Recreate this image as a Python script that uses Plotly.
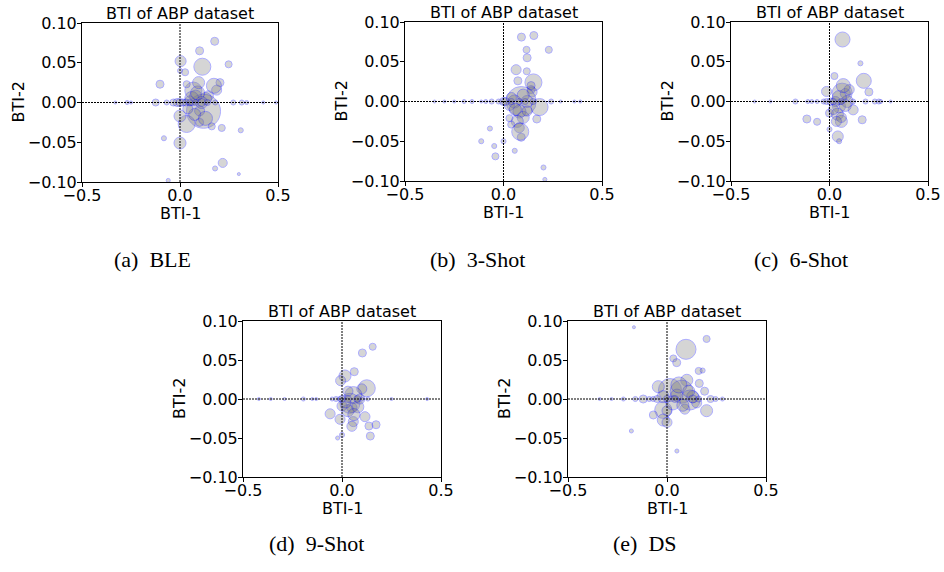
import plotly.graph_objects as go

# ---- data (x = BTI-1, y = BTI-2, s = bubble weight) ----
ble_x = [0.177, 0.10, 0.003, 0.0, 0.026, 0.114, 0.248, -0.102, 0.204, 0.187, 0.068, 0.145, 0.034,
         0.12, 0.05, 0.10, 0.034, 0.0, 0.10, 0.162, 0.213, 0.31, -0.082, 0.0, 0.218, 0.179, 0.30, -0.06,
         0.173, 0.13, 0.08, 0.06, 0.09, 0.11, 0.075, 0.13, 0.04, 0.095,
         -0.33, -0.27, -0.25, -0.124, -0.068, -0.034, -0.015, 0.0, 0.015, 0.03, 0.05, 0.08, 0.11, 0.14,
         0.18, 0.272, 0.315, 0.34, 0.425, 0.49]
ble_y = [0.077, 0.065, 0.052, 0.04, 0.038, 0.045, 0.048, 0.023, 0.025, 0.0156, 0.015, 0.0084, 0.023,
         -0.011, 0.002, -0.0105, -0.027, -0.017, -0.025, -0.03, -0.032, -0.035, -0.045, -0.051, -0.076,
         -0.083, -0.09, -0.098, 0.021, 0.005, 0.008, 0.005, 0.012, 0.0, -0.015, -0.02, -0.008, 0.025,
         0, 0, 0, 0, 0, 0, 0, 0, 0, 0, 0, 0, 0, 0, 0, 0, 0, 0, 0, 0]
ble_s = [8, 8, 11, 5, 7, 17, 7, 8, 8, 10, 17, 10, 7,
         34, 10, 10, 17, 12, 8, 7, 7, 5, 5, 12, 9, 5, 3, 4,
         15, 12, 12, 14, 14, 12, 12, 14, 10, 12,
         3, 4, 3, 7, 5, 7, 8, 8, 7, 7, 6, 6, 8, 6, 5, 5, 5, 4, 3, 3]

shot3_x = [0.091, 0.154, 0.117, 0.12, 0.23, 0.064, 0.118, 0.073, 0.152, 0.14, 0.145,
           0.09, 0.183, 0.056, 0.081, 0.03, 0.12, 0.10, 0.06, 0.1, 0.07, 0.12, 0.04, 0.09, 0.14,
           0.169, 0.03, 0.039, 0.08, 0.085, -0.069, -0.113, -0.047, 0.0, 0.057, -0.041, 0.203, 0.21,
           -0.35, -0.30, -0.25, -0.2, -0.16, -0.113, -0.09, -0.06, -0.025, 0.0, 0.01, 0.04, 0.08, 0.11,
           0.15, 0.242, 0.29, 0.36, 0.39]
shot3_y = [0.081, 0.083, 0.065, 0.055, 0.065, 0.040, 0.038, 0.026, 0.024, 0.015, 0.012,
           0.0, -0.007, 0.0, -0.0126, -0.005, 0.0, -0.02, -0.01, 0.008, -0.025, -0.012, 0.005, -0.045,
           0.02,
           -0.022, -0.021, -0.029, -0.033, -0.038, -0.034, -0.050, -0.056, -0.050, -0.062, -0.069,
           -0.083, -0.098,
           0, 0, 0, 0, 0, 0, 0, 0, 0, 0, 0, 0, 0, 0, 0, 0, 0, 0, 0]
shot3_s = [8, 8, 7, 8, 7, 10, 7, 8, 17, 8, 10,
           30, 17, 13, 13, 10, 12, 12, 12, 12, 12, 10, 10, 8, 8,
           8, 7, 7, 10, 17, 5, 5, 5, 5, 5, 7, 5, 4,
           3, 3, 3, 4, 4, 3, 4, 5, 5, 8, 8, 6, 6, 6, 6, 5, 3, 3, 3]

shot6_x = [0.066, 0.157, 0.174, 0.025, 0.2, -0.015, 0.064, 0.08, 0.048, 0.12, 0.0, 0.04, 0.03, 0.09,
           0.05, 0.08, 0.06, 0.02, 0.1, 0.07,
           -0.115, -0.063, 0.166, 0.0, 0.042, 0.049, 0.06, 0.035,
           -0.38, -0.3, -0.173, -0.11, -0.09, -0.063, -0.03, -0.015, 0.005, 0.02, 0.06, 0.12, 0.183,
           0.23, 0.25, 0.26, 0.31]
shot6_y = [0.078, 0.048, 0.026, 0.032, 0.012, 0.0126, 0.0105, 0.01, -0.006, -0.0105, -0.0146, -0.016,
           0.0, 0.0, 0.005, -0.005, -0.025, -0.01, 0.015, 0.02,
           -0.022, -0.0255, -0.023, -0.035, -0.044, -0.050, -0.02, -0.025,
           0, 0, 0, 0, 0, 0, 0, 0, 0, 0, 0, 0, 0, 0, 0, 0, 0]
shot6_s = [15, 5, 15, 7, 8, 10, 20, 10, 13, 10, 8, 12, 10, 12,
           14, 12, 12, 10, 10, 14,
           8, 7, 8, 5, 11, 5, 10, 10,
           3, 3, 5, 4, 4, 4, 5, 6, 7, 6, 6, 5, 5, 5, 5, 4, 3]

shot9_x = [0.155, 0.103, 0.062, 0.015, -0.007, 0.125, 0.1, 0.057, 0.04, 0.0, 0.05, -0.06, -0.01,
           0.057, 0.116, 0.136, 0.172, 0.143, 0.0, -0.022, 0.03, 0.08,
           0.02, 0.06, 0.09, 0.03, 0.05,
           -0.42, -0.36, -0.29, -0.195, -0.15, -0.13, -0.05, -0.03, -0.01, 0.0, 0.03, 0.077, 0.1,
           0.13, 0.25, 0.43]
shot9_y = [0.067, 0.059, 0.035, 0.0295, 0.0235, 0.0137, 0.013, 0.005, -0.0055, -0.009, -0.011,
           -0.019, -0.026, -0.029, -0.0227, -0.0346, -0.033, -0.0475, -0.046, -0.050, -0.015, -0.01,
           -0.005, -0.02, 0.0, 0.01, -0.035,
           0, 0, 0, 0, 0, 0, 0, 0, 0, 0, 0, 0, 0, 0, 0, 0]
shot9_s = [7, 8, 8, 12, 10, 17, 10, 17, 20, 10, 10, 10, 10, 10, 10, 8, 8, 8, 5, 4, 12, 12,
           10, 12, 10, 10, 10,
           3, 3, 3, 4, 3, 3, 4, 5, 5, 7, 7, 7, 4, 4, 3, 3]

ds_x = [0.096, 0.2, 0.032, 0.049, 0.16, 0.18, 0.163, 0.1, 0.015, -0.044, 0.074, 0.116, 0.19,
        -0.019, 0.0, -0.069, 0.2, 0.09, -0.019, 0.05, -0.167, -0.18, 0.05, 0.13,
        0.03, 0.08, 0.06, -0.02, 0.11, 0.15, 0.0,
        -0.34, -0.28, -0.22, -0.16, -0.12, -0.09, -0.07, -0.05, 0.0, 0.04, 0.13, 0.16, 0.22, 0.245,
        0.28]
ds_y = [0.0637, 0.077, 0.052, 0.0466, 0.036, 0.0365, 0.020, 0.024, 0.0115, 0.0158, 0.0094, -0.0013,
        0.01, -0.014, -0.015, -0.0205, -0.015, -0.013, -0.027, -0.0667, 0.092, -0.041, 0.005, 0.003,
        -0.005, -0.008, 0.018, 0.003, 0.01, -0.005, -0.03,
        0, 0, 0, 0, 0, 0, 0, 0, 0, 0, 0, 0, 0, 0, 0]
ds_s = [20, 7, 7, 8, 7, 5, 8, 12, 23, 12, 23, 20, 8, 17, 10, 8, 12, 10, 12, 4, 3, 4, 12, 12,
        14, 12, 16, 12, 12, 10, 10,
        3, 3, 4, 5, 8, 5, 5, 7, 7, 7, 8, 6, 7, 5, 4]

panels = [
    ("(a)\u2002BLE", ble_x, ble_y, ble_s),
    ("(b)\u20023-Shot", shot3_x, shot3_y, shot3_s),
    ("(c)\u20026-Shot", shot6_x, shot6_y, shot6_s),
    ("(d)\u20029-Shot", shot9_x, shot9_y, shot9_s),
    ("(e)\u2002DS", ds_x, ds_y, ds_s),
]

W, H = 944, 572
# pixel boxes of each axes (left, right, top, bottom) and caption centre
boxes = [(82, 278, 23, 182, 152, 259), (405, 602, 22, 181, 477, 259), (731, 928, 22, 181, 801, 259),
         (243, 441, 321, 477, 316, 543), (568, 766, 321, 477, 645, 543)]

fig = go.Figure()
tick_font = dict(family="DejaVu Sans", size=16, color="black")

for i, ((cap, xs, ys, ss), (l, r, t, b, cx, cy)) in enumerate(zip(panels, boxes), start=1):
    sfx = "" if i == 1 else str(i)
    fig.add_trace(go.Scatter(
        x=xs, y=ys, mode="markers", xaxis="x" + sfx, yaxis="y" + sfx, showlegend=False,
        marker=dict(size=ss, sizemode="diameter", color="gray", opacity=0.32,
                    line=dict(color="blue", width=1)),
    ))
    fig.update_layout({
        "xaxis" + sfx: dict(domain=[l / W, r / W], anchor="y" + sfx, range=[-0.5, 0.5],
                            tickvals=[-0.5, 0, 0.5], tickformat=".1f", showgrid=False, zeroline=False,
                            showline=True, mirror=True, linecolor="black", linewidth=1,
                            ticks="outside", ticklen=4, tickcolor="black", tickfont=tick_font,
                            ticklabelstandoff=-5, automargin=False),
        "yaxis" + sfx: dict(domain=[1 - b / H, 1 - t / H], anchor="x" + sfx, range=[-0.1, 0.1],
                            tickvals=[-0.1, -0.05, 0, 0.05, 0.1], tickformat=".2f", showgrid=False,
                            zeroline=False, showline=True, mirror=True, linecolor="black",
                            linewidth=1, ticks="outside", ticklen=4, tickcolor="black",
                            tickfont=tick_font, ticklabelstandoff=-3, automargin=False),
    })
    # dotted reference lines through the origin
    fig.add_shape(type="line", xref="x" + sfx, yref="y" + sfx, x0=0, x1=0, y0=-0.1, y1=0.1,
                  line=dict(color="black", width=1, dash="2px,1px"), layer="above")
    fig.add_shape(type="line", xref="x" + sfx, yref="y" + sfx, x0=-0.5, x1=0.5, y0=0, y1=0,
                  line=dict(color="black", width=1, dash="2px,1px"), layer="above")
    fig.add_annotation(text="BTI of ABP dataset", xref="paper", yref="paper", x=(l + r) / 2 / W,
                       y=1 - t / H, xanchor="center", yanchor="bottom", yshift=-2, showarrow=False,
                       font=tick_font)
    # axis titles
    fig.add_annotation(text="BTI-1", xref="paper", yref="paper", x=(l + r) / 2 / W,
                       y=1 - (b + 31) / H, xanchor="center", yanchor="middle", showarrow=False,
                       font=tick_font)
    fig.add_annotation(text="BTI-2", xref="paper", yref="paper", x=(l - 64) / W,
                       y=1 - (t + b) / 2 / H, xanchor="center", yanchor="middle", textangle=-90,
                       showarrow=False, font=tick_font)
    fig.add_annotation(text=cap, xref="paper", yref="paper", x=cx / W, y=1 - cy / H,
                       xanchor="center", yanchor="middle", showarrow=False,
                       font=dict(family="Liberation Serif", size=22, color="black"))

fig.update_layout(width=W, height=H, margin=dict(l=0, r=0, t=0, b=0),
                  paper_bgcolor="white", plot_bgcolor="white")
# drop the browser's default 8px body margin so the figure sits at the page corner
fig.write_html("out.html", config={"displayModeBar": False},
               post_script="document.body.style.margin='0';")
